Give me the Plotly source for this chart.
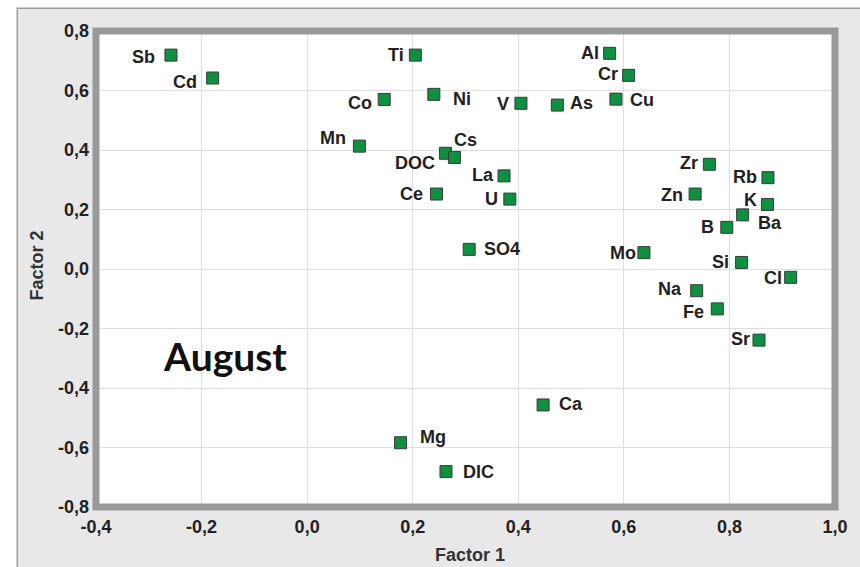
import plotly.graph_objects as go

# Factor loadings, August sampling
elements = ["Sb", "Cd", "Ti", "Co", "Ni", "V", "As", "Mn", "DOC", "Cs", "La", "Ce", "U",
            "SO4", "Al", "Cr", "Cu", "Zr", "Rb", "Zn", "K", "Ba", "B", "Mo", "Si", "Cl",
            "Na", "Fe", "Sr", "Mg", "Ca", "DIC"]
factor1 = [-0.258, -0.179, 0.205, 0.146, 0.240, 0.405, 0.474, 0.099, 0.262, 0.279, 0.373,
           0.245, 0.384, 0.307, 0.573, 0.609, 0.585, 0.762, 0.873, 0.735, 0.872, 0.825,
           0.795, 0.638, 0.823, 0.916, 0.738, 0.777, 0.856, 0.177, 0.447, 0.263]
factor2 = [0.719, 0.642, 0.719, 0.570, 0.587, 0.557, 0.551, 0.413, 0.389, 0.375, 0.313,
           0.252, 0.235, 0.066, 0.725, 0.651, 0.571, 0.352, 0.307, 0.252, 0.217, 0.182,
           0.140, 0.055, 0.022, -0.028, -0.073, -0.134, -0.239, -0.584, -0.457, -0.681]

x_ticks = [-0.4, -0.2, 0.0, 0.2, 0.4, 0.6, 0.8, 1.0]
y_ticks = [-0.8, -0.6, -0.4, -0.2, 0.0, 0.2, 0.4, 0.6, 0.8]


def comma_label(v):
    # decimal comma with a plain hyphen for negatives
    return f"{v:.1f}".replace(".", ",")


# label placement: side of the marker, horizontal gap and vertical offset (px, + = down)
label_place = {
    "Sb": ("L", -14, 2), "Cd": ("L", -14, 4), "Ti": ("L", -9, 0), "Co": ("L", -10, 4),
    "Ni": ("R", 17, 5), "V": ("L", -10, 1), "As": ("R", 11, -2), "Mn": ("L", -11, -8),
    "DOC": ("L", -8, 10), "Cs": ("R", -2, -17), "La": ("L", -8, -1), "Ce": ("L", -11, 0),
    "U": ("L", -10, 0), "SO4": ("R", 13, 0), "Al": ("L", -9, 0), "Cr": ("L", -9, -1),
    "Cu": ("R", 12, 1), "Zr": ("L", -9, -1), "Rb": ("L", -9, -1), "Zn": ("L", -10, 1),
    "K": ("L", -8, -4), "Ba": ("R", 13, 8), "B": ("L", -11, 0), "Mo": ("L", -6, 0),
    "Si": ("L", -11, 0), "Cl": ("L", -7, 1), "Na": ("L", -13, -2), "Fe": ("L", -11, 3),
    "Sr": ("L", -7, -1), "Mg": ("R", 17, -6), "Ca": ("R", 14, -1), "DIC": ("R", 15, 0),
}

label_font = dict(family="Liberation Sans", size=18, color="#222222", weight="bold")

fig = go.Figure()
fig.add_trace(go.Scatter(
    x=factor1, y=factor2, mode="markers", text=elements,
    marker=dict(symbol="square", size=12, color="#0b9140",
                line=dict(color="#3a3a3a", width=1)),
    hovertemplate="%{text}: %{x:.2f}, %{y:.2f}<extra></extra>",
    showlegend=False,
))

annotations = []
for name, xv, yv in zip(elements, factor1, factor2):
    side, dx, dy = label_place[name]
    annotations.append(dict(
        x=xv, y=yv, xref="x", yref="y", text=name, showarrow=False,
        xanchor="right" if side == "L" else "left", yanchor="middle",
        xshift=dx, yshift=-dy, font=label_font,
    ))

annotations += [
    dict(text="August", x=0.1746, y=0.318, xref="paper", yref="paper", showarrow=False,
         xanchor="center", yanchor="middle",
         font=dict(family="Lato", size=39, color="#111111", weight="bold")),
    dict(text="Factor 1", x=0.5067, y=-0.1, xref="paper", yref="paper", showarrow=False,
         xanchor="center", yanchor="middle",
         font=dict(family="Liberation Sans", size=18, color="#333333", weight="bold")),
    dict(text="Factor 2", x=-0.0795, y=0.508, xref="paper", yref="paper", showarrow=False,
         textangle=-90, xanchor="center", yanchor="middle",
         font=dict(family="Liberation Sans", size=18, color="#333333", weight="bold")),
]

shapes = [
    # light grey panel behind the chart
    dict(type="rect", xref="paper", yref="paper", x0=-0.1065, x1=1.05, y0=-0.16, y1=1.048,
         fillcolor="#e8e8e8", line=dict(color="#9a9a9a", width=1.5), layer="below"),
    # white plotting area
    dict(type="rect", xref="paper", yref="paper", x0=0, x1=1, y0=0, y1=1,
         fillcolor="#ffffff", line=dict(width=0), layer="below"),
    # heavy frame around the plotting area
    dict(type="rect", xref="paper", yref="paper", x0=0, x1=1, y0=0, y1=1,
         fillcolor="rgba(0,0,0,0)", line=dict(color="#999999", width=7), layer="above"),
]

tick_font = dict(family="Liberation Sans", size=18, color="#222222", weight="bold")

fig.update_layout(
    width=860, height=567,
    margin=dict(l=96, r=22, t=31, b=60),
    paper_bgcolor="#ffffff", plot_bgcolor="#ffffff",
    annotations=annotations, shapes=shapes,
    xaxis=dict(range=[-0.4, 1.0], tickvals=x_ticks, ticktext=[comma_label(v) for v in x_ticks],
               showgrid=True, gridcolor="#dedede", gridwidth=1, zeroline=False,
               showline=False, ticks="", tickfont=tick_font, ticklabelstandoff=7),
    yaxis=dict(range=[-0.8, 0.8], tickvals=y_ticks, ticktext=[comma_label(v) for v in y_ticks],
               showgrid=True, gridcolor="#dedede", gridwidth=1, zeroline=False,
               showline=False, ticks="", tickfont=tick_font, ticklabelstandoff=6),
)

fig.write_html("out.html")
